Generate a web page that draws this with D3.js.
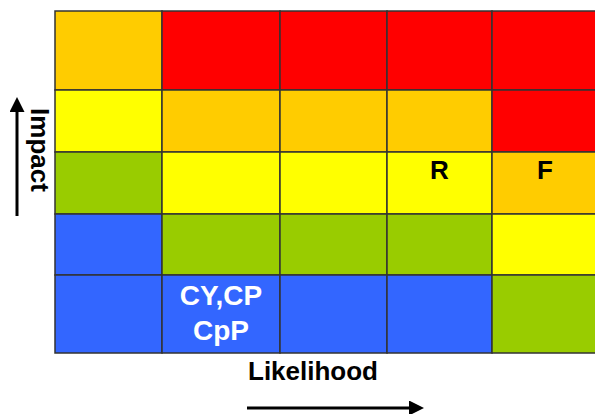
<!DOCTYPE html>
<html>
<head>
<meta charset="utf-8">
<script src="https://cdn.jsdelivr.net/npm/d3@7"></script>
<style>
  html, body { margin: 0; padding: 0; background: #fff; }
  svg { display: block; }
  text { font-family: Arial, "Liberation Sans", Helvetica, sans-serif; font-weight: bold; }
</style>
</head>
<body>
<svg id="chart" width="595" height="414"></svg>
<script>
// Likelihood levels (left to right) and impact levels (top to bottom)
const likelihoodLevels = [1, 2, 3, 4, 5];
const impactLevels = [5, 4, 3, 2, 1];

// Risk rating per cell: one row per impact level (top row = highest impact)
const ratingRows = [
  [4, 5, 5, 5, 5],
  [3, 4, 4, 4, 5],
  [2, 3, 3, 3, 4],
  [1, 2, 2, 2, 3],
  [1, 1, 1, 1, 2]
];

// Items placed in the matrix
const itemLikelihood = [4, 5, 2];
const itemImpact = [3, 3, 1];
const itemLabels = [["R"], ["F"], ["CY,CP", "CpP"]];

const ratingColor = d3.scaleOrdinal()
  .domain([1, 2, 3, 4, 5])
  .range(["#3366ff", "#99cc00", "#ffff00", "#ffcc00", "#ff0000"]);

// Layout: column and row edges of the matrix
const colEdges = [55, 162, 280, 387, 492, 598];
const rowEdges = [11, 90, 152, 214, 275, 353];

const x = d3.scaleOrdinal().domain(likelihoodLevels).range(colEdges.slice(0, -1));
const xEnd = d3.scaleOrdinal().domain(likelihoodLevels).range(colEdges.slice(1));
const y = d3.scaleOrdinal().domain(impactLevels).range(rowEdges.slice(0, -1));
const yEnd = d3.scaleOrdinal().domain(impactLevels).range(rowEdges.slice(1));

const svg = d3.select("#chart");

const cells = [];
ratingRows.forEach((row, ri) => {
  row.forEach((rating, ci) => {
    cells.push({ likelihood: likelihoodLevels[ci], impact: impactLevels[ri], rating });
  });
});

svg.append("g").selectAll("rect")
  .data(cells)
  .join("rect")
  .attr("x", d => x(d.likelihood))
  .attr("y", d => y(d.impact))
  .attr("width", d => xEnd(d.likelihood) - x(d.likelihood))
  .attr("height", d => yEnd(d.impact) - y(d.impact))
  .attr("fill", d => ratingColor(d.rating))
  .attr("stroke", "#333")
  .attr("stroke-width", 1.5);

// Item labels inside cells
const items = itemLabels.map((lines, i) => {
  const cell = cells.find(c => c.likelihood === itemLikelihood[i] && c.impact === itemImpact[i]);
  return { likelihood: itemLikelihood[i], impact: itemImpact[i], lines, rating: cell.rating };
});

const itemG = svg.append("g").selectAll("text")
  .data(items)
  .join("text")
  .attr("text-anchor", "middle")
  .attr("fill", d => d.rating === 1 ? "#fff" : "#000")
  .attr("font-size", d => d.lines.length > 1 ? 28 : 26)
  .attr("x", d => (x(d.likelihood) + xEnd(d.likelihood)) / 2)
  .attr("y", d => y(d.impact) + (d.lines.length > 1 ? 30 : 27));

itemG.selectAll("tspan")
  .data(d => d.lines.map((t, i) => ({ t, i, cx: (x(d.likelihood) + xEnd(d.likelihood)) / 2 })))
  .join("tspan")
  .attr("x", d => d.cx)
  .attr("dy", d => d.i === 0 ? 0 : 35)
  .text(d => d.t);

// Arrow marker
const defs = svg.append("defs");
defs.append("marker")
  .attr("id", "arrow")
  .attr("viewBox", "0 0 10 10")
  .attr("refX", 0).attr("refY", 5)
  .attr("markerWidth", 5).attr("markerHeight", 5)
  .attr("markerUnits", "strokeWidth")
  .attr("orient", "auto")
  .append("path")
  .attr("d", "M0,0 L10,5 L0,10 Z")
  .attr("fill", "#000");

// Likelihood axis label and arrow
svg.append("text")
  .attr("x", 313).attr("y", 380)
  .attr("text-anchor", "middle")
  .attr("font-size", 26)
  .attr("fill", "#000")
  .text("Likelihood");

svg.append("line")
  .attr("x1", 247).attr("y1", 408)
  .attr("x2", 409).attr("y2", 408)
  .attr("stroke", "#000").attr("stroke-width", 3)
  .attr("marker-end", "url(#arrow)");

// Impact axis label and arrow
svg.append("text")
  .attr("transform", "translate(31,150) rotate(90)")
  .attr("text-anchor", "middle")
  .attr("font-size", 26)
  .attr("fill", "#000")
  .text("Impact");

svg.append("line")
  .attr("x1", 17).attr("y1", 216)
  .attr("x2", 17).attr("y2", 112)
  .attr("stroke", "#000").attr("stroke-width", 3)
  .attr("marker-end", "url(#arrow)");
</script>
</body>
</html>
